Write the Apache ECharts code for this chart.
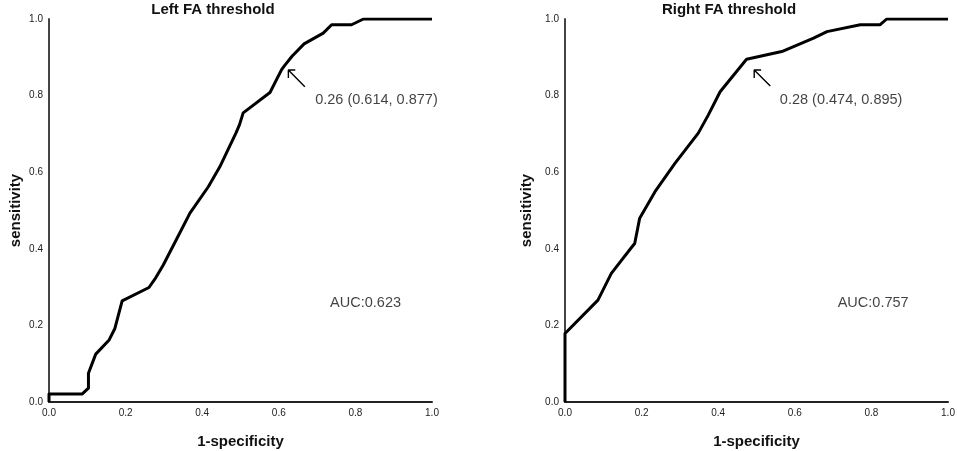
<!DOCTYPE html>
<html>
<head>
<meta charset="utf-8">
<script src="https://cdn.jsdelivr.net/npm/echarts@6/dist/echarts.min.js"></script>
<style>
html,body{margin:0;padding:0;background:#fff;}
#c{width:957px;height:451px;}
</style>
</head>
<body>
<div id="c"></div>
<script>
// ---- data ----
const tickLabels = ['0.0','0.2','0.4','0.6','0.8','1.0'];
const titles = ['Left FA threshold', 'Right FA threshold'];
const xName = '1-specificity';
const yName = 'sensitivity';

const leftFPR = [0,0,0.087,0.103,0.103,0.122,0.157,0.172,0.191,0.261,0.279,0.298,0.332,0.368,0.416,0.446,0.488,0.497,0.507,0.577,0.607,0.614,0.634,0.666,0.716,0.738,0.790,0.821,1.0];
const leftTPR = [0,0.021,0.021,0.036,0.075,0.125,0.162,0.192,0.264,0.299,0.325,0.357,0.423,0.493,0.562,0.614,0.702,0.723,0.755,0.808,0.867,0.877,0.902,0.935,0.963,0.985,0.985,1.0,1.0];

const rightFPR = [0,0,0.086,0.121,0.174,0.182,0.195,0.235,0.287,0.348,0.374,0.405,0.474,0.566,0.649,0.684,0.771,0.823,0.840,1.0];
const rightTPR = [0,0.179,0.266,0.336,0.404,0.414,0.480,0.549,0.623,0.702,0.749,0.810,0.895,0.915,0.950,0.967,0.985,0.985,1.0,1.0];

// annotation anchors (data space)
const leftCutLabel = '0.26 (0.614, 0.877)';
const rightCutLabel = '0.28 (0.474, 0.895)';
const leftAUC = 'AUC:0.623';
const rightAUC = 'AUC:0.757';
const leftCutPos = [0.695, 0.789];
const rightCutPos = [0.561, 0.789];
const leftAUCPos = [0.734, 0.258];
const rightAUCPos = [0.712, 0.258];
const leftArrow = [[0.668,0.823],[0.625,0.867],[0.643,0.867],[0.625,0.867],[0.625,0.846]];
const rightArrow = [[0.536,0.825],[0.494,0.867],[0.512,0.867],[0.494,0.867],[0.494,0.846]];

// ---- chart ----
const FONT = '"Liberation Sans", Arial, sans-serif';
const zip = (a, b) => a.map((v, i) => [v, b[i]]);

function xAxis(gi) {
  return {
    gridIndex: gi, type: 'value', min: 0, max: 1, interval: 0.2,
    name: xName, nameLocation: 'middle', nameGap: 32,
    nameTextStyle: {fontFamily: FONT, fontSize: 15, fontWeight: 'bold', color: '#111'},
    axisLine: {show: true, onZero: false, lineStyle: {color: '#222', width: 2}},
    axisTick: {show: false}, splitLine: {show: false},
    axisLabel: {fontFamily: FONT, fontSize: 10, color: '#222', margin: 6,
      formatter: v => tickLabels[Math.round(v * 5)]}
  };
}
function yAxis(gi, gap) {
  return {
    gridIndex: gi, type: 'value', min: 0, max: 1, interval: 0.2,
    name: yName, nameLocation: 'middle', nameGap: gap,
    nameTextStyle: {fontFamily: FONT, fontSize: 15, fontWeight: 'bold', color: '#111'},
    axisLine: {show: true, onZero: false, lineStyle: {color: '#444', width: 2}},
    axisTick: {show: false}, splitLine: {show: false},
    axisLabel: {fontFamily: FONT, fontSize: 10, color: '#222', margin: 6,
      formatter: v => tickLabels[Math.round(v * 5)]}
  };
}
function curve(gi, xs, ys) {
  return {type: 'line', xAxisIndex: gi, yAxisIndex: gi, data: zip(xs, ys),
    symbol: 'none', smooth: false, silent: true, z: 3,
    lineStyle: {color: '#000', width: 3, join: 'round'}};
}
function arrow(gi, pts) {
  return {type: 'line', xAxisIndex: gi, yAxisIndex: gi, data: pts,
    symbol: 'none', silent: true, z: 4,
    lineStyle: {color: '#000', width: 1.4}};
}
function text(gi, pos, str) {
  return {type: 'scatter', xAxisIndex: gi, yAxisIndex: gi, data: [pos],
    symbolSize: 0, silent: true, z: 5,
    label: {show: true, position: [0, 0], align: 'left', verticalAlign: 'middle',
      formatter: () => str, fontFamily: FONT, fontSize: 14.5, color: '#111'}};
}

const chart = echarts.init(document.getElementById('c'), null, {renderer: 'canvas'});
chart.setOption({
  animation: false,
  backgroundColor: '#fff',
  title: [
    {text: titles[0], left: 213, top: 2, padding: 0, textAlign: 'center',
     textStyle: {fontFamily: FONT, fontSize: 15, fontWeight: 'bold', color: '#111'}},
    {text: titles[1], left: 729, top: 2, padding: 0, textAlign: 'center',
     textStyle: {fontFamily: FONT, fontSize: 15, fontWeight: 'bold', color: '#111'}}
  ],
  grid: [
    {left: 49, top: 19, width: 383, height: 383, containLabel: false, outerBoundsMode: 'none'},
    {left: 565, top: 19, width: 383, height: 383, containLabel: false, outerBoundsMode: 'none'}
  ],
  xAxis: [xAxis(0), xAxis(1)],
  yAxis: [yAxis(0, 26), yAxis(1, 31)],
  series: [
    curve(0, leftFPR, leftTPR),
    curve(1, rightFPR, rightTPR),
    arrow(0, leftArrow),
    arrow(1, rightArrow),
    text(0, leftCutPos, leftCutLabel),
    text(1, rightCutPos, rightCutLabel),
    text(0, leftAUCPos, leftAUC),
    text(1, rightAUCPos, rightAUC)
  ]
});
</script>
</body>
</html>
